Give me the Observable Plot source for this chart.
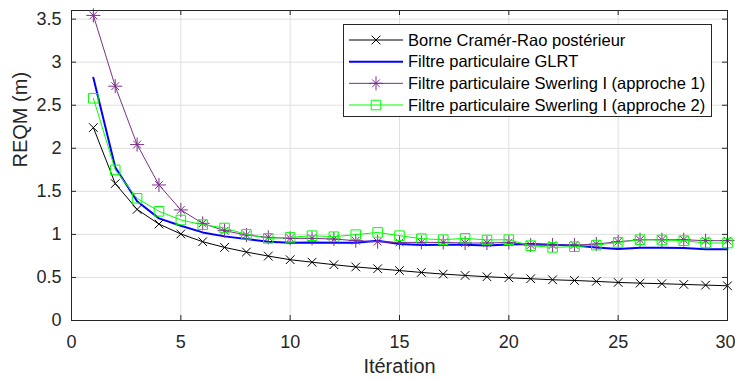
<!DOCTYPE html>
<html><head><meta charset="utf-8">
<script src="https://cdn.jsdelivr.net/npm/d3@7"></script>
<script src="https://cdn.jsdelivr.net/npm/@observablehq/plot@0.6"></script>
<style>
body{margin:0;background:#fff;font-family:"Liberation Sans",Arial,Helvetica,sans-serif;}
#wrap{position:relative;width:735px;height:379px;}
#legend{position:absolute;left:343px;top:24px;}
</style></head>
<body><div id="wrap"></div>
<script>
const iterations = [1,2,3,4,5,6,7,8,9,10,11,12,13,14,15,16,17,18,19,20,21,22,23,24,25,26,27,28,29,30];
const crb   = [2.24,1.59,1.29,1.12,1.005,0.915,0.849,0.795,0.748,0.706,0.677,0.648,0.622,0.601,0.58,0.558,0.539,0.523,0.508,0.496,0.485,0.473,0.465,0.454,0.442,0.434,0.427,0.419,0.411,0.403];
const glrt  = [2.82,1.78,1.384,1.186,1.10,1.023,0.977,0.946,0.915,0.904,0.907,0.904,0.904,0.925,0.888,0.876,0.88,0.88,0.872,0.884,0.888,0.88,0.872,0.849,0.83,0.845,0.845,0.841,0.826,0.826];
const swer1 = [3.543,2.721,2.043,1.574,1.284,1.128,1.043,0.993,0.965,0.954,0.954,0.946,0.927,0.915,0.907,0.907,0.907,0.9,0.9,0.907,0.876,0.876,0.876,0.888,0.915,0.938,0.938,0.938,0.927,0.927];
const swer2 = [2.581,1.749,1.419,1.268,1.167,1.113,1.074,1.0,0.954,0.965,0.985,0.973,0.997,1.023,0.985,0.95,0.938,0.954,0.935,0.938,0.869,0.849,0.857,0.876,0.907,0.938,0.935,0.927,0.9,0.9];
const xTicks = [0,5,10,15,20,25,30];
const yTicks = [0,0.5,1,1.5,2,2.5,3,3.5];
const seriesLabels = ["Borne Cramér-Rao postérieur","Filtre particulaire GLRT","Filtre particulaire Swerling I (approche 1)","Filtre particulaire Swerling I (approche 2)"];
const xLabel = "Itération";
const yLabel = "REQM (m)";

const W = 735, H = 379, mL = 71, mR = 8, mT = 10, mB = 59;
const fh = H - mT - mB, fw = W - mL - mR, tk = 5;
const axisColor = "#262626", gridColor = "#dfdfdf";
const cBlack = "#000000", cBlue = "#0000ff", cPurple = "#7e2f8e", cGreen = "#00ff00";
const font = '"Liberation Sans", Arial, Helvetica, sans-serif';

const rows = iterations.map((it, i) => ({it, crb: crb[i], glrt: glrt[i], s1: swer1[i], s2: swer2[i]}));
const lastTick = xTicks[xTicks.length - 1];

const chart = Plot.plot({
  width: W, height: H, marginLeft: mL, marginRight: mR, marginTop: mT, marginBottom: mB,
  style: {fontFamily: font, fontSize: "18px", color: axisColor, background: "#fff"},
  x: {domain: [0, 30]},
  y: {domain: [0, 3.6]},
  marks: [
    Plot.gridX(xTicks, {stroke: gridColor, strokeOpacity: 1}),
    Plot.gridY(yTicks, {stroke: gridColor, strokeOpacity: 1}),
    Plot.line(rows, {x: "it", y: "crb", stroke: cBlack, strokeWidth: 1}),
    Plot.dot(rows, {x: "it", y: "crb", symbol: "times", r: 4, stroke: cBlack, fill: "none", strokeWidth: 1}),
    Plot.line(rows, {x: "it", y: "glrt", stroke: cBlue, strokeWidth: 2}),
    Plot.line(rows, {x: "it", y: "s1", stroke: cPurple, strokeWidth: 1}),
    Plot.dot(rows, {x: "it", y: "s1", symbol: "plus", r: 4.6, stroke: cPurple, fill: "none", strokeWidth: 1}),
    Plot.dot(rows, {x: "it", y: "s1", symbol: "times", r: 3.6, stroke: cPurple, fill: "none", strokeWidth: 1}),
    Plot.line(rows, {x: "it", y: "s2", stroke: cGreen, strokeWidth: 1}),
    Plot.dot(rows, {x: "it", y: "s2", symbol: "square", r: 5.4, stroke: cGreen, fill: "none", strokeWidth: 1}),
    Plot.frame({stroke: axisColor, strokeWidth: 1}),
    Plot.tickX(xTicks, {x: d => d, stroke: axisColor, insetTop: fh - tk}),
    Plot.tickX(xTicks, {x: d => d, stroke: axisColor, insetBottom: fh - tk}),
    Plot.tickY(yTicks, {y: d => d, stroke: axisColor, insetRight: fw - tk}),
    Plot.tickY(yTicks, {y: d => d, stroke: axisColor, insetLeft: fw - tk}),
    Plot.axisX(xTicks.filter(d => d !== lastTick), {tickSize: 0, tickPadding: 15, fontSize: 18, tickFormat: d => String(d), label: null}),
    Plot.axisX([lastTick], {tickSize: 0, tickPadding: 15, fontSize: 18, dx: -2, tickFormat: d => String(d), label: null}),
    Plot.axisY(yTicks, {tickSize: 0, tickPadding: 10, fontSize: 18, tickFormat: d => String(d), label: null}),
    Plot.text([xLabel], {text: d => d, frameAnchor: "bottom", dy: 46, lineAnchor: "middle", fontSize: 20, fill: axisColor}),
    Plot.text([yLabel], {text: d => d, frameAnchor: "left", dx: -51, dy: 2, rotate: -90, lineAnchor: "middle", fontSize: 20, fill: axisColor})
  ]
});

const wrap = document.getElementById("wrap");
wrap.appendChild(chart);

// legend
const lw = 369, lh = 93;
const legendItems = [
  {label: seriesLabels[0], color: cBlack, width: 1, markers: [[d3.symbolTimes, 4]]},
  {label: seriesLabels[1], color: cBlue, width: 2, markers: []},
  {label: seriesLabels[2], color: cPurple, width: 1, markers: [[d3.symbolPlus, 4.6], [d3.symbolTimes, 3.6]]},
  {label: seriesLabels[3], color: cGreen, width: 1, markers: [[d3.symbolSquare, 5.4]]}
];
const lsvg = d3.create("svg").attr("id", "legend").attr("width", lw).attr("height", lh)
  .style("position", "absolute").style("left", "343px").style("top", "24px");
lsvg.append("rect").attr("x", 0.5).attr("y", 0.5).attr("width", lw - 1).attr("height", lh - 1)
  .attr("fill", "#fff").attr("stroke", axisColor);
legendItems.forEach((it, i) => {
  const y = 16 + i * 21.67;
  const g = lsvg.append("g").attr("transform", `translate(0,${y})`);
  g.append("line").attr("x1", 6).attr("x2", 60).attr("y1", 0).attr("y2", 0)
    .attr("stroke", it.color).attr("stroke-width", it.width);
  it.markers.forEach(([type, r]) => {
    g.append("path").attr("transform", "translate(33,0)")
      .attr("d", d3.symbol(type, Math.PI * r * r)())
      .attr("fill", "none").attr("stroke", it.color).attr("stroke-width", 1);
  });
  g.append("text").attr("x", 65).attr("y", 0).attr("dy", "0.35em")
    .attr("font-family", font).attr("font-size", 16.5).attr("fill", "#000").text(it.label);
});
wrap.appendChild(lsvg.node());
</script>
</body></html>
